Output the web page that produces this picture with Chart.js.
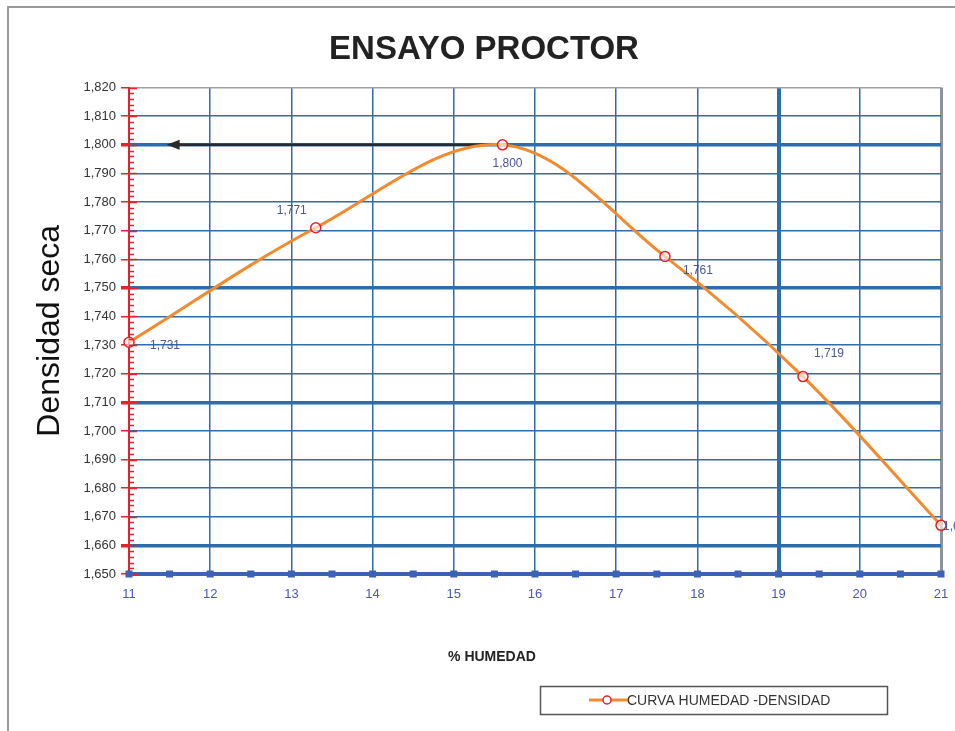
<!DOCTYPE html>
<html>
<head>
<meta charset="utf-8">
<script src="https://cdn.jsdelivr.net/npm/chart.js@4.4.1/dist/chart.umd.min.js"></script>
<style>
  html, body { margin: 0; padding: 0; background: #fff; }
  #wrap { position: relative; width: 955px; height: 731px; }
</style>
</head>
<body>
<div id="wrap"><canvas id="proctorChart"></canvas></div>
<script>
// Datos del ensayo
const humedad = [11, 13.3, 15.6, 17.6, 19.3, 21];
const densidad = [1.731, 1.771, 1.800, 1.761, 1.719, 1.667];

// Flecha hacia la densidad maxima
const flechaX = [15.6, 11.5];
const flechaY = [1.800, 1.800];

// Ejes
const xMin = 11, xMax = 21;
const yMin = 1.65, yMax = 1.82;
const yThick = [1.66, 1.71, 1.75, 1.80];

const FONT = "'Liberation Sans', Arial, sans-serif";
const GRID = "#2e6dab";

const fmt = v => v.toFixed(3).replace(".", ",");
const same = (a, b) => Math.abs(a - b) < 1e-6;

// -------------------------------
// Decorations: frame, minor ticks, labels, arrowhead, legend
// -------------------------------
const decorations = {
  id: "decorations",
  beforeDraw(chart) {
    const ctx = chart.ctx;
    ctx.save();
    ctx.strokeStyle = "#9a9a9a";
    ctx.lineWidth = 2;
    ctx.beginPath();
    ctx.moveTo(8, 731);
    ctx.lineTo(8, 7);
    ctx.lineTo(955, 7);
    ctx.stroke();
    ctx.restore();
  },
  afterDraw(chart) {
    const { ctx, scales: { x, y } } = chart;
    ctx.save();

    // red minor ticks on the y axis
    ctx.strokeStyle = "#e8202a";
    ctx.lineWidth = 1.5;
    for (let i = 0; i <= Math.round((yMax - yMin) / 0.002); i++) {
      const v = yMin + i * 0.002;
      const py = Math.round(y.getPixelForValue(v)) + 0.5;
      const major = i % 5 === 0;
      ctx.beginPath();
      ctx.moveTo(x.left, py);
      ctx.lineTo(x.left + (major ? 8 : 5), py);
      ctx.stroke();
    }

    // square markers on the x axis
    ctx.fillStyle = "#3b62b5";
    for (let i = 0; i <= (xMax - xMin) * 2; i++) {
      const px = x.getPixelForValue(xMin + i * 0.5);
      ctx.fillRect(px - 3.5, y.bottom - 3.5, 7, 7);
    }

    // arrowhead
    const ax = x.getPixelForValue(flechaX[1]);
    const ay = y.getPixelForValue(flechaY[1]);
    ctx.fillStyle = "#2a2a2a";
    ctx.beginPath();
    ctx.moveTo(ax - 3, ay);
    ctx.lineTo(ax + 10, ay - 5);
    ctx.lineTo(ax + 10, ay + 5);
    ctx.closePath();
    ctx.fill();

    // point value labels
    const offsets = [[21, 3, "left"], [-24, -17, "center"], [5, 19, "center"],
                     [33, 14, "center"], [26, -23, "center"], [2, 1, "left"]];
    ctx.font = "12px " + FONT;
    ctx.fillStyle = "#4b5590";
    ctx.textBaseline = "middle";
    humedad.forEach((h, i) => {
      const px = x.getPixelForValue(h);
      const py = y.getPixelForValue(densidad[i]);
      ctx.textAlign = offsets[i][2];
      ctx.fillText(fmt(densidad[i]), px + offsets[i][0], py + offsets[i][1]);
    });

    // x axis title
    ctx.font = "bold 14px " + FONT;
    ctx.fillStyle = "#222";
    ctx.textAlign = "center";
    ctx.fillText("% HUMEDAD", 492, 657);

    // legend
    ctx.strokeStyle = "#555";
    ctx.lineWidth = 1.5;
    ctx.strokeRect(540.5, 686.5, 347, 28);
    ctx.strokeStyle = "#f28a2e";
    ctx.lineWidth = 3;
    ctx.beginPath();
    ctx.moveTo(589, 700);
    ctx.lineTo(628, 700);
    ctx.stroke();
    ctx.fillStyle = "#fff";
    ctx.strokeStyle = "#e8202a";
    ctx.lineWidth = 1.5;
    ctx.beginPath();
    ctx.arc(607, 700, 4, 0, Math.PI * 2);
    ctx.fill();
    ctx.stroke();
    ctx.font = "14px " + FONT;
    ctx.fillStyle = "#333";
    ctx.textAlign = "left";
    ctx.fillText(chart.data.datasets[0].label, 627, 701);

    ctx.restore();
  }
};

document.addEventListener("DOMContentLoaded", () => {
  const ctx = document.getElementById("proctorChart");

  new Chart(ctx, {
    type: "line",
    data: {
      datasets: [
        {
          label: "CURVA HUMEDAD -DENSIDAD",
          data: humedad.map((h, i) => ({ x: h, y: densidad[i] })),
          borderColor: "#f28a2e",
          borderWidth: 3,
          tension: 0.35,
          pointRadius: 5,
          pointBorderWidth: 1.5,
          pointBorderColor: "#e8202a",
          pointBackgroundColor: "rgba(255,255,255,0.6)",
          clip: false,
          order: 1,
        },
        {
          label: "flecha",
          data: flechaX.map((h, i) => ({ x: h, y: flechaY[i] })),
          borderColor: "#2a2a2a",
          borderWidth: 2.5,
          pointRadius: 0,
          order: 2,
        },
      ],
    },
    options: {
      responsive: true,
      maintainAspectRatio: false,
      animation: false,
      layout: { padding: { left: 27, right: 14, top: 0, bottom: 0 } },
      plugins: {
        legend: { display: false },
        tooltip: { enabled: false },
        title: {
          display: true,
          text: "ENSAYO PROCTOR",
          color: "#222",
          font: { family: FONT, size: 33, weight: "bold" },
          padding: { top: 30, bottom: 18 },
        },
      },
      scales: {
        x: {
          type: "linear",
          min: xMin,
          max: xMax,
          afterFit: scale => { scale.height = 157; },
          ticks: {
            stepSize: 1,
            color: "#4a58b0",
            font: { family: FONT, size: 13 },
            padding: 5,
          },
          grid: {
            color: c => same(c.tick.value, xMax) ? "#8e939b" : same(c.tick.value, xMin) ? "rgba(0,0,0,0)" : GRID,
            lineWidth: c => same(c.tick.value, xMax) ? 3 : same(c.tick.value, 19) ? 4 : 1.5,
            tickColor: "rgba(0,0,0,0)",
            tickLength: 8,
          },
          border: { color: "#3b62b5", width: 4 },
        },
        y: {
          min: yMin,
          max: yMax,
          afterFit: scale => { scale.width = 102; },
          ticks: {
            stepSize: 0.01,
            color: "#333",
            font: { family: FONT, size: 13 },
            padding: 5,
            callback: v => fmt(v),
          },
          grid: {
            color: c => same(c.tick.value, yMax) ? "#a0a0a0" : GRID,
            lineWidth: c => yThick.some(t => same(t, c.tick.value)) ? 3.5 : 1.5,
            tickColor: "#e8202a",
            tickLength: 8,
          },
          border: { color: "#e8202a", width: 2 },
          title: {
            display: true,
            text: "Densidad seca",
            color: "#111",
            font: { family: FONT, size: 32 },
            padding: { top: 4, bottom: 0 },
          },
        },
      },
    },
    plugins: [decorations],
  });
});
</script>
</body>
</html>
